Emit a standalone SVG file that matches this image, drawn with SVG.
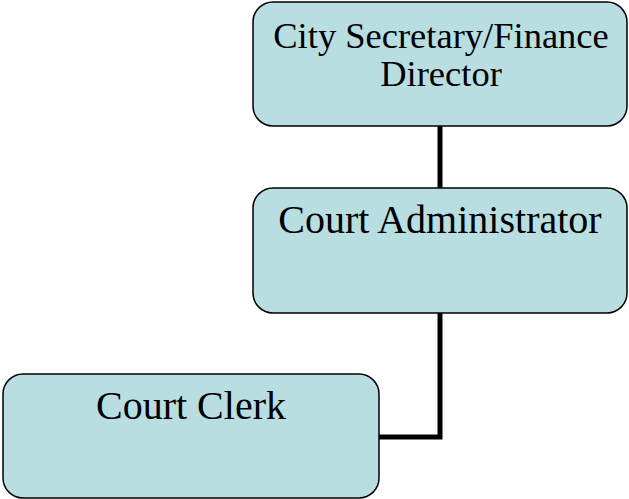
<svg xmlns="http://www.w3.org/2000/svg" width="629" height="499" viewBox="0 0 629 499">
  <style>
    .box { fill: #b8dee2; stroke: #000; stroke-width: 1.5; }
    .label { font-family: "Liberation Serif", "Times New Roman", serif; fill: #000; text-anchor: middle; }
    .link { fill: none; stroke: #000; stroke-width: 5; }
  </style>
  <rect width="629" height="499" fill="#fff"/>
  <g id="connectors">
    <line class="link" x1="440" y1="126" x2="440" y2="188"/>
    <polyline class="link" points="440,313 440,437 379,437"/>
  </g>
  <g id="city-secretary">
    <rect class="box" x="253" y="2" width="374" height="124" rx="20" ry="20"/>
    <text class="label" x="441" y="48" font-size="36.5">City Secretary/Finance</text>
    <text class="label" x="441" y="86" font-size="36.5">Director</text>
  </g>
  <g id="court-administrator">
    <rect class="box" x="253" y="188" width="374" height="125" rx="20" ry="20"/>
    <text class="label" x="440" y="233" font-size="40">Court Administrator</text>
  </g>
  <g id="court-clerk">
    <rect class="box" x="3" y="374" width="376" height="124" rx="20" ry="20"/>
    <text class="label" x="191" y="419" font-size="40">Court Clerk</text>
  </g>
</svg>
